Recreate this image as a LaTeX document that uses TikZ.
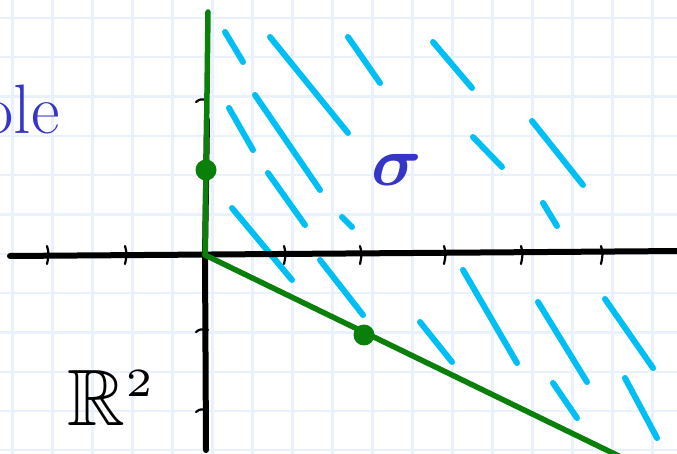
\documentclass[tikz,border=0pt]{standalone}
\usepackage{amsmath,amssymb}
\definecolor{gridc}{HTML}{E8F1FC}
\definecolor{hatchc}{HTML}{00BFF5}
\definecolor{rayc}{HTML}{0A7F0A}
\definecolor{textblue}{HTML}{3535C8}
\begin{document}
\begin{tikzpicture}[x=1pt,y=-1pt,
  gridline/.style={draw=gridc, line width=2.2pt},
  hatch/.style={draw=hatchc, line width=6pt, line cap=round},
  axisline/.style={draw=black, line width=6pt, line cap=round},
  ray/.style={draw=rayc, line width=5.5pt, line cap=round},
  tickmark/.style={draw=black, line width=2.2pt, line cap=round},
  dotmark/.style={circle, fill=rayc, minimum size=21pt, inner sep=0pt}]
\useasboundingbox (0,0) rectangle (677,454);
\clip (0,0) rectangle (677,454);
\fill[white] (0,0) rectangle (677,454);
% grid
\foreach \i in {0,...,16} \draw[gridline] ({12.5+40*\i},0) -- ({12.5+40*\i},454);
\foreach \j in {0,...,11} \draw[gridline] (0,{18+39.3*\j}) -- (677,{18+39.3*\j});
% hatching
\foreach \ax/\ay/\bx/\by in {
  225/32/243/62, 270/37/348/133, 348/37/380/83, 433/42/472/88,
  229/108/253/150, 255/95/320/190, 268/173/305/225, 232/208/292/280,
  342/217/352/227, 320/260/363/315,
  473/137/502/167, 532/121/583/185, 543/203/557/226,
  420/322/452/362, 463/270/517/363, 538/302/587/382, 605/299/653/368,
  553/383/577/418, 625/378/657/438}
  \draw[hatch] (\ax,\ay) -- (\bx,\by);
% axes
\coordinate (O) at (205,255);
\coordinate (xl) at (10,256);
\coordinate (xr) at (682,251);
\coordinate (yb) at (206,450);
\coordinate (yt) at (207,120);
\draw[axisline] (xl) -- (xr);
\draw[axisline] (yt) -- (O) -- (yb);
% ticks
\foreach \tx in {47,125,284,360,444,521,601}
  \draw[tickmark] (\tx,246) .. controls (\tx+2,254) .. (\tx,264);
\foreach \ty in {100,330,410}
  \draw[tickmark] (196,\ty+2) .. controls (200,\ty-1) .. (208,\ty);
% green rays
\coordinate (ytop) at (208,12);
\coordinate (dend) at (625,459);
\draw[ray] (O) -- (ytop);
\draw[ray] (O) -- (dend);
\node[dotmark] (p1) at (206,170) {};
\node[dotmark] (p2) at (364,335) {};
% labels
\node[anchor=base east, text=textblue, inner sep=0pt,
  font=\fontsize{70}{70}\selectfont] (word) at (60,134) {ole};
\node[text=textblue, scale=7, inner sep=0pt] (sig) at (397,170) {$\boldsymbol{\sigma}$};
\node[scale=8, inner sep=0pt] (R2) at (112,398) {$\mathbb{R}^{\scriptscriptstyle 2}$};
\end{tikzpicture}
\end{document}
